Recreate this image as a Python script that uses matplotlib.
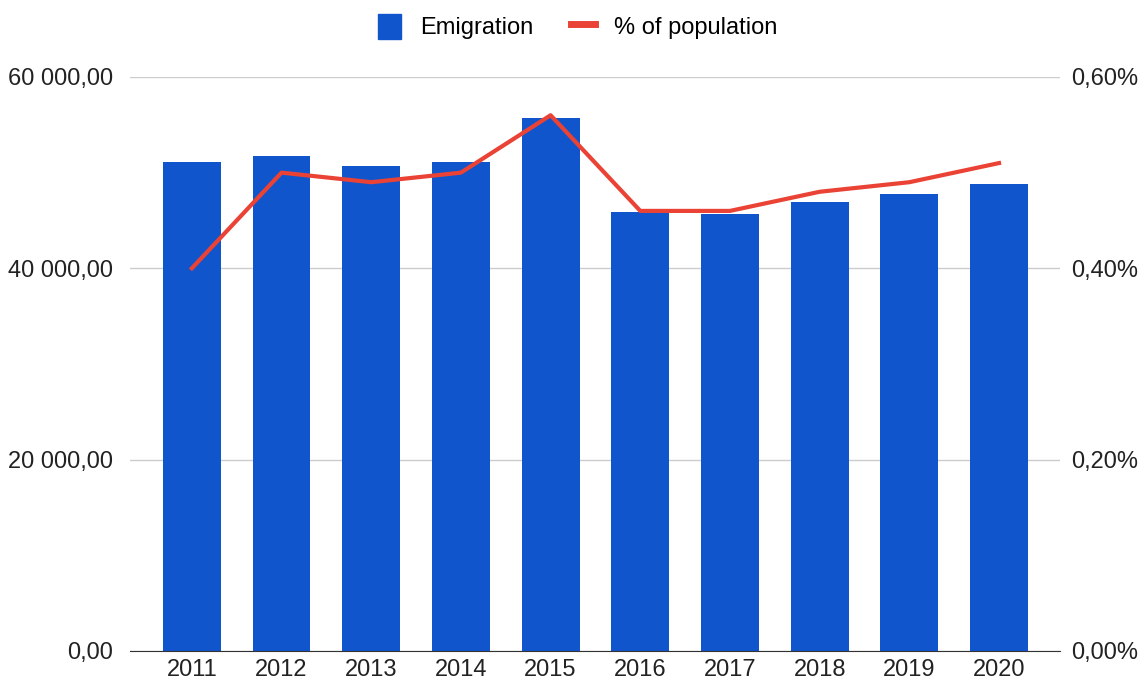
import matplotlib.pyplot as plt
from matplotlib.ticker import FuncFormatter
from matplotlib.lines import Line2D
from matplotlib.patches import Patch

plt.rcParams['font.family'] = ['Liberation Sans', 'DejaVu Sans']

years = ['2011', '2012', '2013', '2014', '2015', '2016', '2017', '2018', '2019', '2020']
emigration = [51100, 51750, 50700, 51100, 55750, 45900, 45700, 46950, 47800, 48850]
pct_population = [0.40, 0.50, 0.49, 0.50, 0.56, 0.46, 0.46, 0.48, 0.49, 0.51]

bar_color = '#1155cc'
line_color = '#ea4335'

fig = plt.figure(figsize=(11.43, 6.83), dpi=100)
ax = fig.add_axes([0.1137, 0.0469, 0.8137, 0.8404])
ax2 = ax.twinx()

x = range(len(years))
ax.bar(x, emigration, width=0.645, color=bar_color, zorder=2)
ax2.plot(x, pct_population, color=line_color, linewidth=3, zorder=3)

ax.set_xlim(-0.69, 9.68)
ax.set_ylim(0, 60000)
ax2.set_ylim(0, 0.6)
ax.set_yticks([0, 20000, 40000, 60000])
ax2.set_yticks([0, 0.2, 0.4, 0.6])
ax.set_xticks(list(x))
ax.set_xticklabels(years)

ax.yaxis.set_major_formatter(FuncFormatter(lambda v, p: f'{v:,.2f}'.replace(',', ' ').replace('.', ',')))
ax2.yaxis.set_major_formatter(FuncFormatter(lambda v, p: f'{v:.2f}%'.replace('.', ',')))

ax.grid(axis='y', color='#cccccc', linewidth=1, zorder=0)
ax.set_axisbelow(True)
for a in (ax, ax2):
    for s in a.spines.values():
        s.set_visible(False)
    a.tick_params(length=0, labelsize=17, colors='#222222')
ax.spines['bottom'].set_visible(True)
ax.spines['bottom'].set_color('#333333')
ax.tick_params(axis='y', pad=12)
ax2.tick_params(axis='y', pad=8)
ax.tick_params(axis='x', pad=6)

ax2.set_zorder(ax.get_zorder() + 1)
ax2.patch.set_visible(False)

handles = [Patch(facecolor=bar_color, edgecolor=bar_color),
           Line2D([0], [0], color=line_color, linewidth=5)]
fig.legend(handles, ['Emigration', '% of population'], loc='upper center',
           bbox_to_anchor=(0.505, 1.01), ncol=2, frameon=False, fontsize=17,
           handlelength=1.0, handleheight=1.2, columnspacing=1.6, handletextpad=0.8)

fig.savefig('out.png', dpi=100)
